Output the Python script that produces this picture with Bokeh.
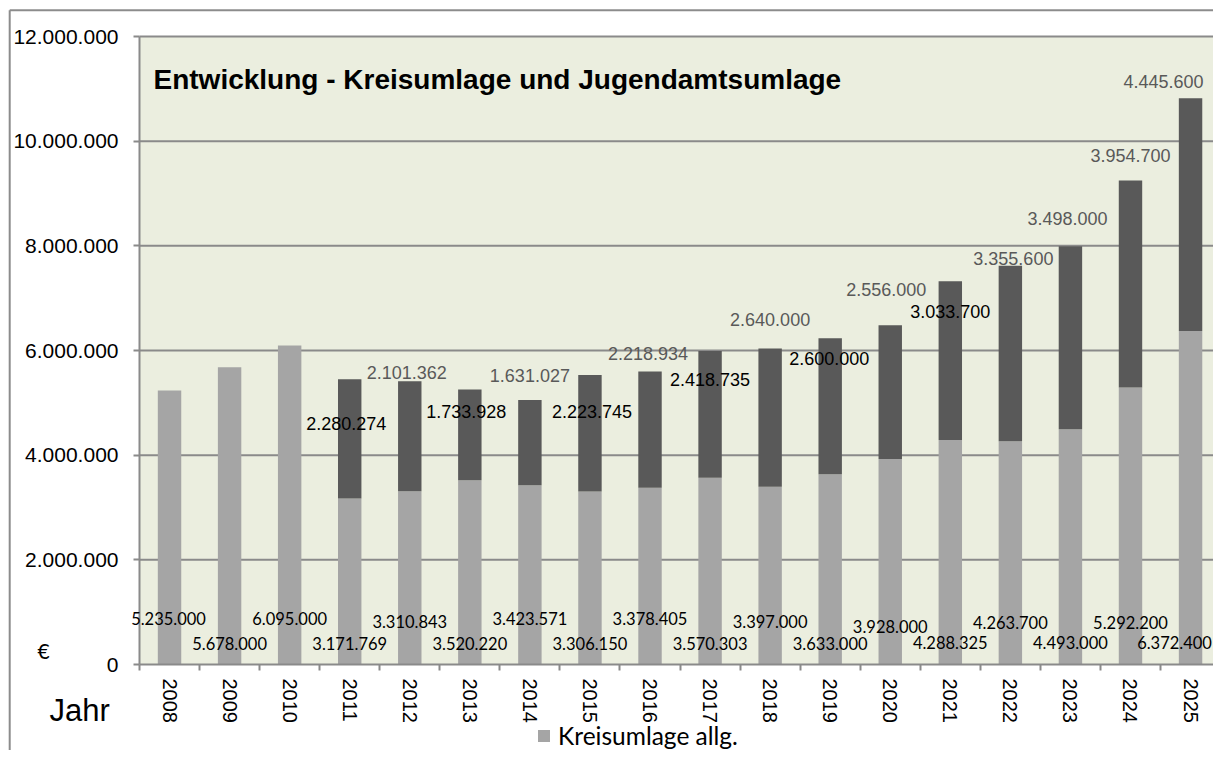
from bokeh.plotting import figure
from bokeh.models import (Range1d, FixedTicker, ColumnDataSource, LabelSet, Label,
                          BoxAnnotation, Legend, LegendItem)
from bokeh.core.properties import value
from bokeh.embed import file_html
from bokeh.resources import INLINE

# ---------------- data ----------------
years = ["2008", "2009", "2010", "2011", "2012", "2013", "2014", "2015", "2016",
         "2017", "2018", "2019", "2020", "2021", "2022", "2023", "2024", "2025"]
kreisumlage = [5235000, 5678000, 6095000, 3171769, 3310843, 3520220, 3423571, 3306150,
               3378405, 3570303, 3397000, 3633000, 3928000, 4288325, 4263700, 4493000,
               5292200, 6372400]
jugendamtsumlage = [0, 0, 0, 2280274, 2101362, 1733928, 1631027, 2223745, 2218934,
                    2418735, 2640000, 2600000, 2556000, 3033700, 3355600, 3498000,
                    3954700, 4445600]
y_tick_values = [0, 2000000, 4000000, 6000000, 8000000, 10000000, 12000000]
y_tick_labels = ["0", "2.000.000", "4.000.000", "6.000.000", "8.000.000",
                 "10.000.000", "12.000.000"]
title_text = "Entwicklung - Kreisumlage und Jugendamtsumlage"
legend_label = "Kreisumlage allg."
x_title = "Jahr"
y_unit = "€"

# ---------------- label placement (pixel offsets, style) ----------------
low_dy = [46, 21.3, 46, 21.3, 43.3, 21.5, 45.7, 21.5, 45.7, 21.5, 43.3, 21.5, 38, 21.7,
          42.3, 21.7, 42.3, 21.7]
low_dx = [-1, 0, 0, 0, 0, 0, 0, 0, 0, 0, 0, 0, 0, 0, 0, 0, 0, -16]
jug_style = ["", "", "", "b", "g", "b", "g", "b", "g", "b", "g", "b", "g", "b", "g", "g", "g", "g"]
jug_dy = [0, 0, 0, -44, 9, -22, 24, -36.4, 18, -28.4, 29, -20, 36, -30, 7, 28, 25, 17]
jug_dx = [0, 0, 0, -3.5, -3, -3.5, 0, 2, -2, 0, 0, -1, -4, 0, 3, -3, 0, -27]


def fmt(v):
    return f"{v:,}".replace(",", ".")


n = len(years)
idx = list(range(n))
totals = [a + b for a, b in zip(kreisumlage, jugendamtsumlage)]

# ---------------- layout (frame = whole canvas, axes fixed inside) ----------------
W, H = 1213, 750
AX_LEFT_PX, AX_TOP_PX, AX_BOTTOM_PX = 139, 36, 664   # plot area edges in pixels
BORDER_X_PX, BORDER_Y_PX = 9.2, 9.7                  # outer chart border
cat_px = 60.06                                       # pixels per category
px_per_unit = (AX_BOTTOM_PX - AX_TOP_PX) / 12000000
x_start = -0.5 - AX_LEFT_PX / cat_px
x_end = x_start + W / cat_px
y_start = -(H - AX_BOTTOM_PX) / px_per_unit
y_end = 12000000 + AX_TOP_PX / px_per_unit

GRID = "#8a8a8a"
BG = "#EBEEDF"
LIGHT = "#A5A5A5"
DARK = "#595959"

p = figure(width=W, height=H, x_range=Range1d(x_start, x_end),
           y_range=Range1d(y_start, y_end),
           output_backend="svg", toolbar_location=None, min_border=0)
p.title.visible = False
p.background_fill_color = "white"
p.border_fill_color = "white"
p.outline_line_color = None
p.xgrid.visible = False
p.ygrid.visible = False

# plot-area background
p.add_layout(BoxAnnotation(left=-0.5, right=x_end, bottom=0, top=12000000,
                           fill_color=BG, fill_alpha=1, line_color=None, level="underlay"))

# outer chart border (left and top edges)
bx = x_start + BORDER_X_PX / cat_px
by = y_end - BORDER_Y_PX / px_per_unit
p.segment(x0=[bx, bx], y0=[y_start - 1000000, by], x1=[bx, x_end + 1], y1=[by, by],
          line_color="#8c8c8c", line_width=2)

# horizontal grid lines at the y ticks
grid_src = ColumnDataSource(dict(y=y_tick_values[1:]))
p.segment(x0=-0.5, x1=x_end + 1, y0="y", y1="y", source=grid_src,
          line_color=GRID, line_width=2)

src = ColumnDataSource(dict(x=idx, year=years, k=kreisumlage, j=jugendamtsumlage, t=totals))
r_light = p.vbar(x="x", width=0.39, bottom=0, top="k", source=src, fill_color=LIGHT,
                 line_color=None)
r_dark = p.vbar(x="x", width=0.39, bottom="k", top="t", source=src, fill_color=DARK,
                line_color=None)

# axes fixed at the plot-area edges
yax = p.yaxis[0]
yax.fixed_location = -0.5
yax.bounds = (0, 12000000)
yax.ticker = FixedTicker(ticks=y_tick_values)
yax.major_label_overrides = dict(zip(y_tick_values, y_tick_labels))
yax.major_label_text_font = "Liberation Sans"
yax.major_label_text_font_size = "21px"
yax.major_label_text_color = "black"
yax.major_tick_out = 6
yax.major_tick_in = 0
yax.minor_tick_line_color = None
yax.major_tick_line_color = GRID
yax.major_tick_line_width = 2
yax.major_label_standoff = 15
yax.axis_line_color = GRID
yax.axis_line_width = 2

xax = p.xaxis[0]
xax.fixed_location = 0
xax.bounds = (-0.5, x_end)
xax.ticker = FixedTicker(ticks=idx, minor_ticks=[i - 0.5 for i in range(n + 1)])
xax.major_label_overrides = dict(zip(idx, years))
xax.major_label_orientation = "vertical"
xax.major_label_text_font = "Liberation Sans"
xax.major_label_text_font_size = "20px"
xax.major_label_text_color = "black"
xax.major_tick_line_color = None
xax.major_tick_out = 6
xax.major_tick_in = 0
xax.minor_tick_out = 6
xax.minor_tick_in = 0
xax.minor_tick_line_color = GRID
xax.minor_tick_line_width = 2
xax.major_label_standoff = 8
xax.axis_line_color = GRID
xax.axis_line_width = 2

# data labels - Kreisumlage (bottom rows)
low_src = ColumnDataSource(dict(x=idx, y=[0] * n, text=[fmt(v) for v in kreisumlage],
                                dx=low_dx, dy=low_dy))
p.add_layout(LabelSet(x="x", y="y", text="text", x_offset="dx", y_offset="dy",
                      source=low_src, text_align="center", text_baseline="middle",
                      text_font=value("Lato"), text_font_size="16.5px", text_color="black"))

# data labels - Jugendamtsumlage
for style, color in (("g", DARK), ("b", "black")):
    sel = [i for i in idx if jug_style[i] == style]
    s = ColumnDataSource(dict(x=sel, y=[totals[i] for i in sel],
                              text=[fmt(jugendamtsumlage[i]) for i in sel],
                              dx=[jug_dx[i] for i in sel], dy=[jug_dy[i] for i in sel]))
    p.add_layout(LabelSet(x="x", y="y", text="text", x_offset="dx", y_offset="dy",
                          source=s, text_align="center", text_baseline="middle",
                          text_font=value("Liberation Sans"), text_font_size="18px",
                          text_color=color))

# title inside the plot area
p.add_layout(Label(x=-0.5, y=12000000, x_offset=14, y_offset=-43, text=title_text,
                   text_font="Liberation Sans", text_font_style="bold",
                   text_font_size="28px", text_color="black",
                   text_align="left", text_baseline="alphabetic"))

# unit and axis title
p.add_layout(Label(x=-0.5, y=0, x_offset=-96, y_offset=14, text=y_unit,
                   text_font="Lato", text_font_size="21px", text_color="black",
                   text_align="center", text_baseline="middle"))
p.add_layout(Label(x=-0.5, y=0, x_offset=-90, y_offset=-46, text=x_title,
                   text_font="Liberation Sans", text_font_size="31px", text_color="black",
                   text_align="left", text_baseline="alphabetic"))

# legend
legend = Legend(items=[LegendItem(label=legend_label, renderers=[r_light])],
                location=(536, 0), orientation="horizontal", padding=0, margin=0,
                spacing=0, border_line_color=None, background_fill_alpha=0,
                glyph_width=15, glyph_height=15, label_standoff=7, label_height=15,
                label_text_font="Lato", label_text_font_size="24.5px",
                label_text_color="black")
p.add_layout(legend, "center")

open("out.html", "w").write(file_html(p, INLINE))
